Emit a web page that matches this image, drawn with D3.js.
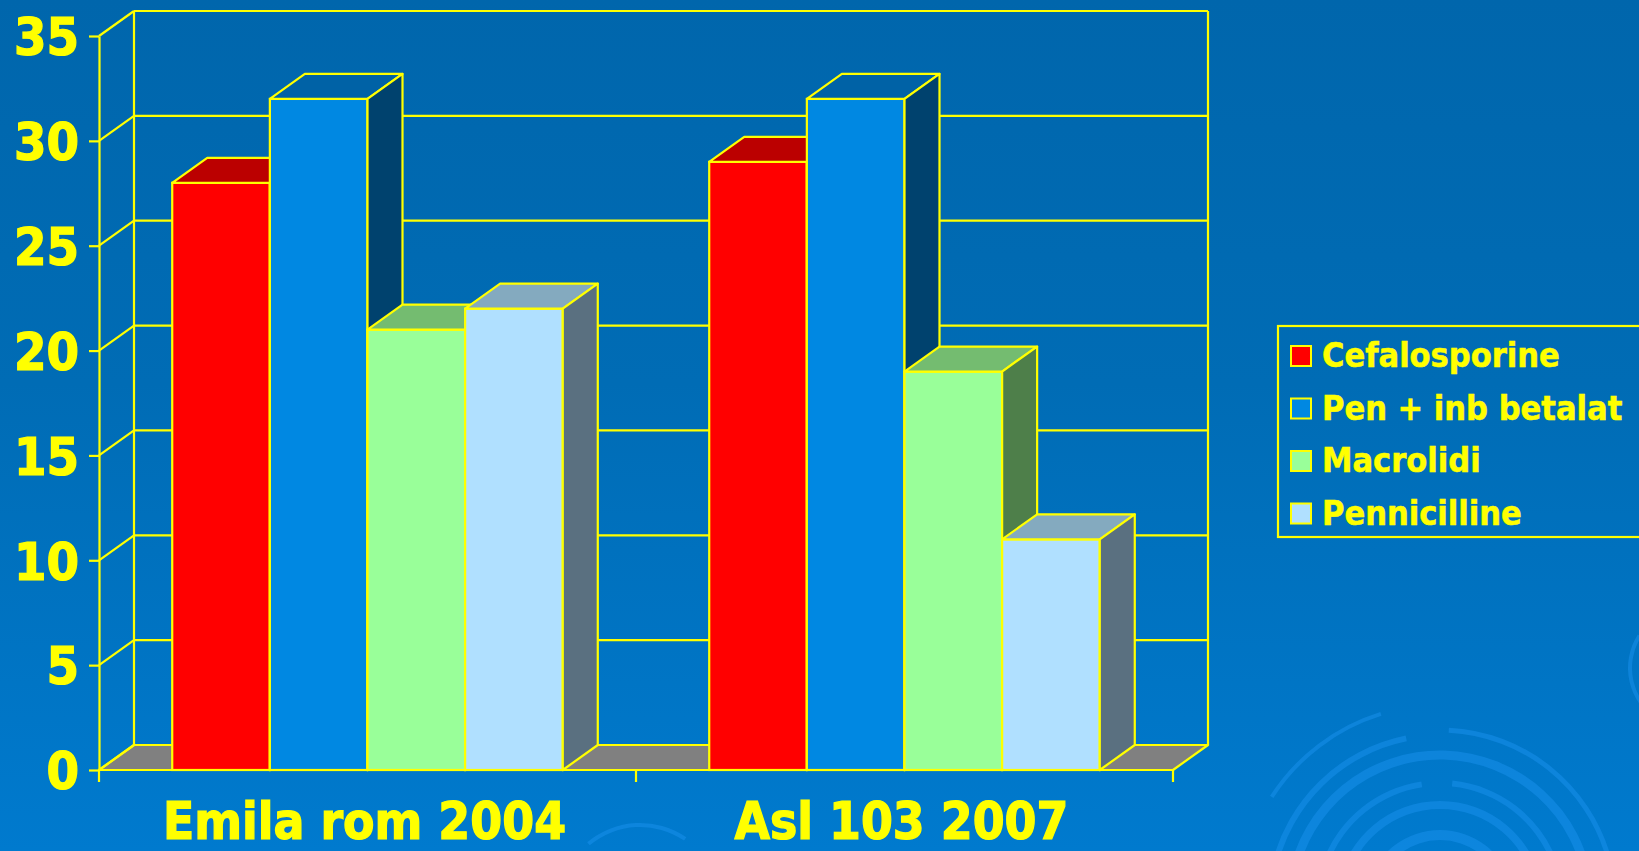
<!DOCTYPE html>
<html>
<head>
<meta charset="utf-8">
<script src="https://cdn.jsdelivr.net/npm/d3@7"></script>
<style>
  html, body { margin: 0; padding: 0; overflow: hidden; }
  svg { display: block; }
  text { font-family: "DejaVu Sans Condensed", "DejaVu Sans", sans-serif; font-weight: bold; fill: #ffff00;
         stroke: #ffff00; stroke-width: 1.2px; paint-order: stroke; }
  .legend text { stroke-width: 0.5px; }
</style>
</head>
<body>
<svg id="chart"></svg>
<script>
const W = 1639, H = 851;

const categories = ['Emila rom 2004', 'Asl 103 2007'];
const series = ['Cefalosporine', 'Pen + inb betalat', 'Macrolidi', 'Pennicilline'];
const cefalosporine = [28, 29];
const penInbBetalat = [32, 32];
const macrolidi = [21, 19];
const pennicilline = [22, 11];
const yTicks = [0, 5, 10, 15, 20, 25, 30, 35];

const values = [cefalosporine, penInbBetalat, macrolidi, pennicilline];
// front, top, side shades per series
const front = ['#ff0000', '#0088e2', '#99ff99', '#b0e0ff'];
const topC  = ['#bb0000', '#0062a6', '#74bc70', '#84aabf'];
const sideC = ['#7a0000', '#00426e', '#4e7f4a', '#5a7080'];
const YEL = '#ffff00';

const DX = 35, DY = 25; // depth offset of the 3D box

const svg = d3.select('#chart').attr('width', W).attr('height', H);

// background
const defs = svg.append('defs');
const grad = defs.append('linearGradient').attr('id', 'bg').attr('x1', 0).attr('y1', 0).attr('x2', 0).attr('y2', 1);
grad.append('stop').attr('offset', '0%').attr('stop-color', '#0066ac');
grad.append('stop').attr('offset', '45%').attr('stop-color', '#006cb5');
grad.append('stop').attr('offset', '100%').attr('stop-color', '#007ace');
svg.append('rect').attr('width', W).attr('height', H).attr('fill', 'url(#bg)');

// faint swirl decoration in the lower right
const rings = [
  [1440, 905, 170, -1.35, -0.2, 6], [1440, 905, 175, 0.05, 1.3, 5],
  [1440, 905, 150, -1.4, 1.45, 9], [1440, 905, 122, -1.2, -0.15, 6],
  [1440, 905, 122, 0.1, 1.2, 6], [1440, 905, 100, -1.4, 1.4, 8],
  [1440, 905, 70, -1.3, 1.3, 10], [1440, 905, 200, -1.0, -0.3, 4],
  [1690, 668, 40, -2.8, -0.8, 5], [1690, 668, 60, -2.6, -1.0, 4],
  [1690, 668, 25, -3.0, -0.4, 8], [640, 905, 80, -0.7, 0.6, 4]
];
const ringArc = d3.arc();
svg.append('g').selectAll('path').data(rings).join('path')
  .attr('transform', d => `translate(${d[0]},${d[1]})`)
  .attr('d', d => ringArc({ innerRadius: d[2] - d[5] / 2, outerRadius: d[2] + d[5] / 2, startAngle: d[3], endAngle: d[4] }))
  .attr('fill', '#1a92ee').attr('opacity', 0.5);

// scales
const x0 = d3.scaleBand().domain(categories).range([99, 1173]).padding(0);
const x1 = d3.scaleBand().domain(series).range([0, x0.bandwidth()]).paddingInner(0).paddingOuter(0.75);
const y = d3.scaleLinear().domain([0, 35]).range([770, 36]);

const [xL, xR] = x0.range();
const g = svg.append('g');
const line = (a, b, c, d) => g.append('line').attr('x1', a).attr('y1', b).attr('x2', c).attr('y2', d)
  .attr('stroke', YEL).attr('stroke-width', 2.2);

// floor
g.append('polygon')
  .attr('points', [[xL, y(0)], [xR, y(0)], [xR + DX, y(0) - DY], [xL + DX, y(0) - DY]].join(' '))
  .attr('fill', '#808080').attr('stroke', YEL).attr('stroke-width', 2.2).attr('stroke-linejoin', 'round');

// back wall gridlines and side wall diagonals
yTicks.forEach(v => {
  line(xL + DX, y(v) - DY, xR + DX, y(v) - DY);
  line(xL, y(v), xL + DX, y(v) - DY);
});
line(xL + DX, y(35) - DY, xL + DX, y(0) - DY);
line(xR + DX, y(35) - DY, xR + DX, y(0) - DY);

// y axis (front)
const yAxis = g.append('g').attr('transform', `translate(${xL},0)`)
  .call(d3.axisLeft(y).tickValues(yTicks).tickSize(10).tickSizeOuter(0).tickPadding(10));
yAxis.select('.domain').attr('stroke', YEL).attr('stroke-width', 2.2);
yAxis.selectAll('.tick line').attr('stroke', YEL).attr('stroke-width', 2.2);
yAxis.selectAll('.tick text').attr('fill', YEL).attr('font-size', 52)
  .attr('font-family', '"DejaVu Sans Condensed", "DejaVu Sans", sans-serif')
  .attr('font-weight', 'bold').attr('dy', '0.36em');

// bars: front, top, side, drawn left to right
const bars = [];
categories.forEach((c, ci) => {
  series.forEach((s, si) => bars.push({ ci, si, v: values[si][ci], x: x0(c) + x1(s), w: x1.bandwidth() }));
});
const barG = g.append('g').selectAll('g').data(bars).join('g');
barG.append('rect')
  .attr('x', d => d.x).attr('y', d => y(d.v))
  .attr('width', d => d.w).attr('height', d => y(0) - y(d.v))
  .attr('fill', d => front[d.si]).attr('stroke', YEL).attr('stroke-width', 2.2);
barG.append('polygon')
  .attr('points', d => [[d.x, y(d.v)], [d.x + DX, y(d.v) - DY], [d.x + d.w + DX, y(d.v) - DY], [d.x + d.w, y(d.v)]].join(' '))
  .attr('fill', d => topC[d.si]).attr('stroke', YEL).attr('stroke-width', 2.2).attr('stroke-linejoin', 'round');
barG.append('polygon')
  .attr('points', d => [[d.x + d.w, y(d.v)], [d.x + d.w + DX, y(d.v) - DY], [d.x + d.w + DX, y(0) - DY], [d.x + d.w, y(0)]].join(' '))
  .attr('fill', d => sideC[d.si]).attr('stroke', YEL).attr('stroke-width', 2.2).attr('stroke-linejoin', 'round');

// x axis (front edge of floor)
line(xL, y(0), xR, y(0));
categories.concat([null]).forEach(c => {
  const xx = c === null ? xR : x0(c);
  line(xx, y(0), xx, y(0) + 12);
});
g.append('g').selectAll('text').data(categories).join('text')
  .attr('x', d => x0(d) + x0.bandwidth() / 2 - 3).attr('y', 839)
  .attr('text-anchor', 'middle').attr('font-size', 51)
  .text(d => d);

// legend
const lg = svg.append('g').attr('class', 'legend').attr('transform', 'translate(1278,326)');
lg.append('rect').attr('width', 420).attr('height', 211)
  .attr('fill', 'none').attr('stroke', YEL).attr('stroke-width', 2.2);
const item = lg.selectAll('g').data(series).join('g')
  .attr('transform', (d, i) => `translate(13,${20 + i * 52.5})`);
item.append('rect').attr('width', 20).attr('height', 20)
  .attr('fill', (d, i) => front[i]).attr('stroke', YEL).attr('stroke-width', 2);
item.append('text').attr('x', 31).attr('y', 21).attr('font-size', 34).text(d => d);
</script>
</body>
</html>
